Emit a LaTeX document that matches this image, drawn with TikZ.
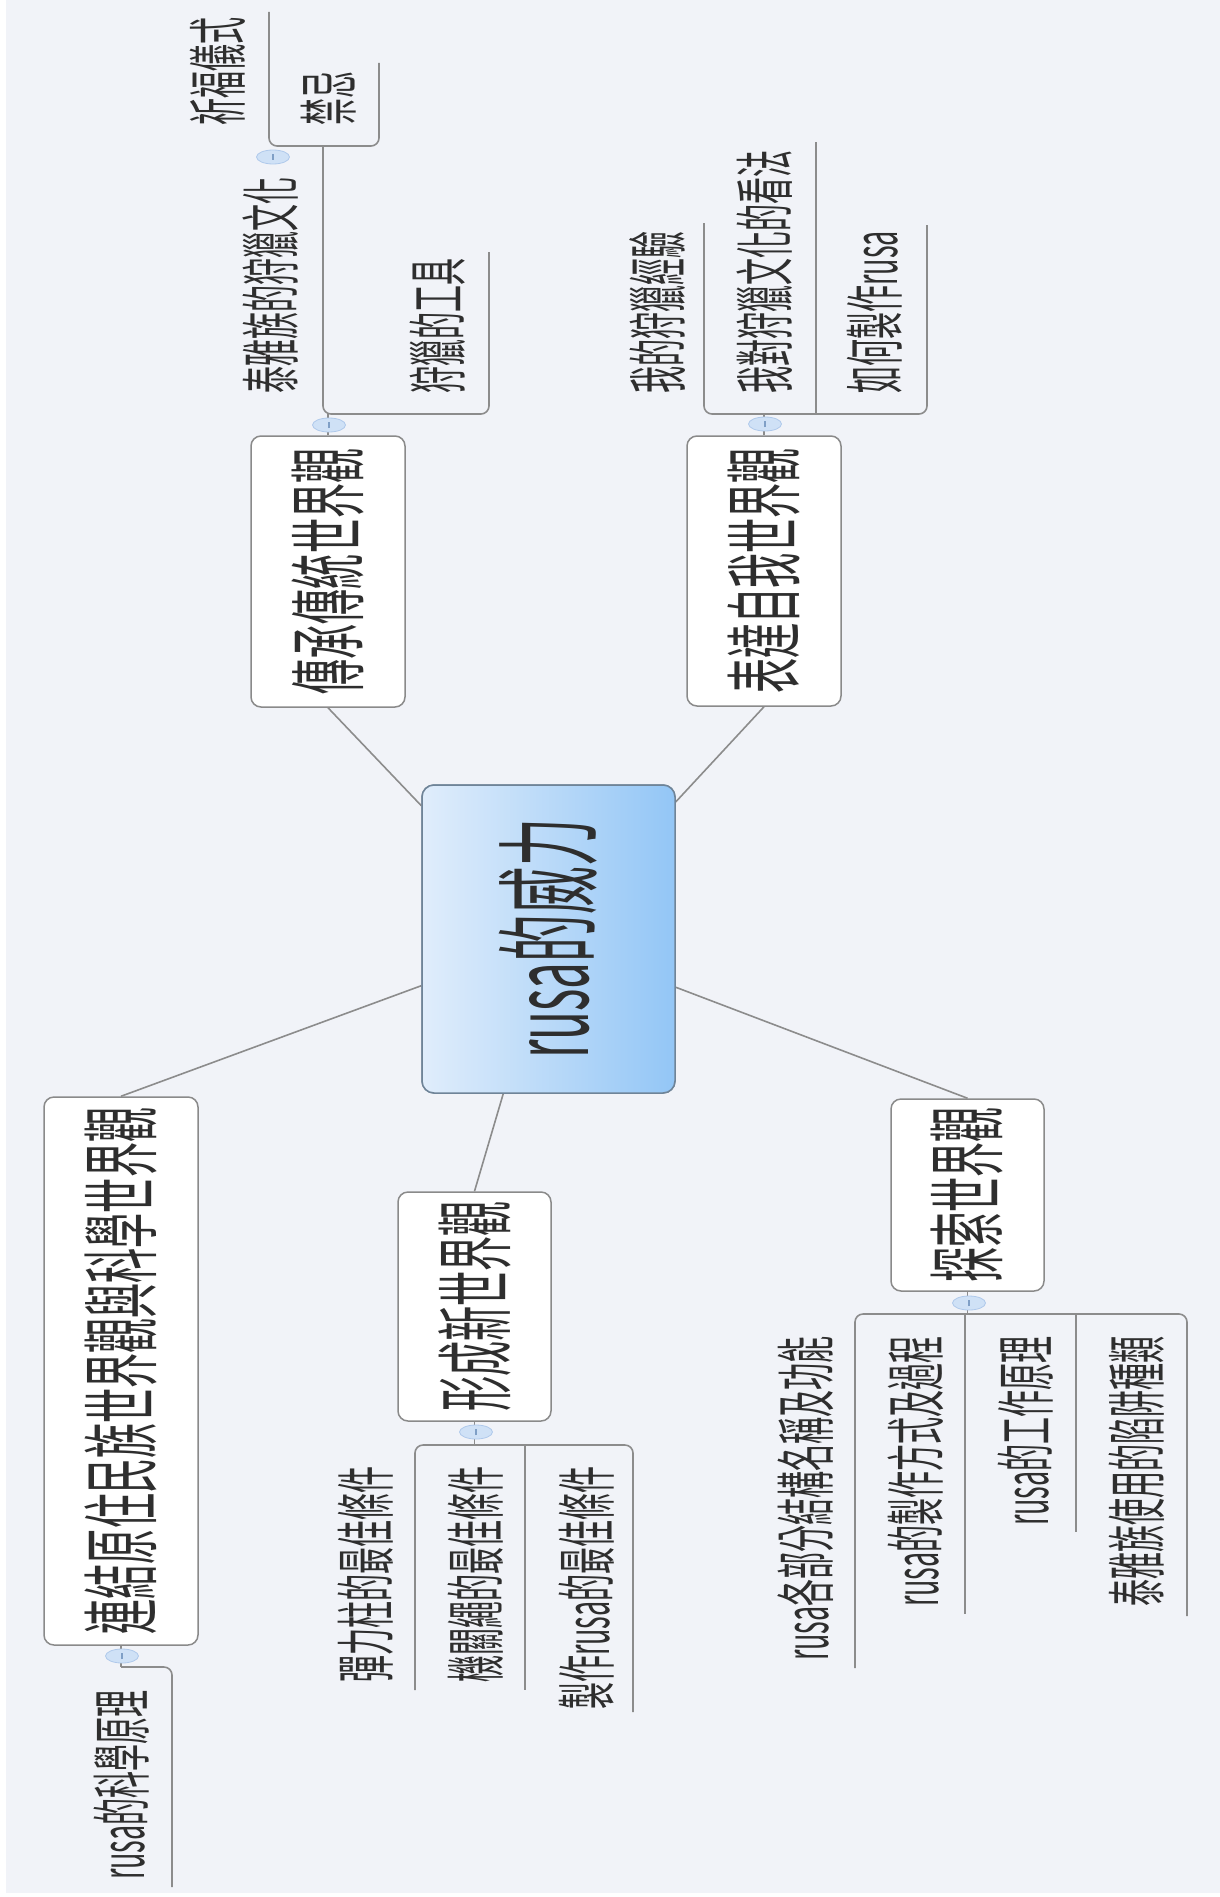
\documentclass[tikz,border=0pt]{standalone}
\usepackage{fontspec}
\usepackage{graphicx}
\setmainfont{Noto Sans CJK TC}
\usetikzlibrary{shapes.geometric}
\definecolor{bg}{HTML}{F1F3F8}
\definecolor{boxline}{HTML}{8A8A8A}
\definecolor{linkc}{HTML}{8C8C8C}
\definecolor{txt}{HTML}{2E2E2E}
\definecolor{knobfill}{HTML}{CFE1F6}
\definecolor{knobline}{HTML}{AFC9EB}
\definecolor{knobtick}{HTML}{7F9FC6}
\definecolor{cleft}{HTML}{E0EDFB}
\definecolor{cright}{HTML}{93C6F6}
\definecolor{cline}{HTML}{6F8498}
\newcommand{\vtext}[2]{\rotatebox{90}{\scalebox{0.45}[1]{\fontsize{#1}{#1}\selectfont #2}}}
\begin{document}
\begin{tikzpicture}[x=1pt,y=-1pt,
  mainbox/.style={draw=boxline, fill=white, rounded corners=10pt, line width=1.5pt, inner sep=0pt, text=txt},
  centerbox/.style={draw=cline, left color=cleft, right color=cright, rounded corners=12pt, line width=1.5pt, inner sep=0pt, text=txt},
  subtext/.style={inner sep=0pt, text=txt},
  link/.style={draw=linkc, line width=1.6pt},
  tree/.style={draw=linkc, line width=1.6pt, rounded corners=8pt},
  knob/.style={ellipse, draw=knobline, fill=knobfill, line width=0.8pt, minimum width=33pt, minimum height=14pt, inner sep=0pt}
]
\useasboundingbox (0,0) rectangle (1220,1897);
\fill[white] (0,0) rectangle (1220,1897);
\fill[bg] (6,0) rectangle (1220,1893);

% central and main topics
\node[centerbox, minimum width=253pt, minimum height=308pt] (c) at (548.5,939) {\vtext{106}{rusa的威力}};
\node[mainbox, minimum width=154pt, minimum height=271pt] (t1) at (328,571.5) {\vtext{78}{傳承傳統世界觀}};
\node[mainbox, minimum width=154pt, minimum height=270pt] (t2) at (764,571) {\vtext{78}{表達自我世界觀}};
\node[mainbox, minimum width=154pt, minimum height=548pt] (t3) at (121,1371) {\vtext{78}{連結原住民族世界觀與科學世界觀}};
\node[mainbox, minimum width=153pt, minimum height=229pt] (t4) at (474.5,1306.5) {\vtext{78}{形成新世界觀}};
\node[mainbox, minimum width=153pt, minimum height=192pt] (t5) at (967.5,1195) {\vtext{78}{探索世界觀}};

% subtopic texts
\node[subtext, anchor=south] (a1) at (271,394) {\vtext{60}{泰雅族的狩獵文化}};
\node[subtext, anchor=south] (a2) at (438,394) {\vtext{60}{狩獵的工具}};
\node[subtext, anchor=south] (a11) at (218,126) {\vtext{60}{祈福儀式}};
\node[subtext, anchor=south] (a12) at (329,126) {\vtext{60}{禁忌}};
\node[subtext, anchor=south] (b1) at (657,394) {\vtext{60}{我的狩獵經驗}};
\node[subtext, anchor=south] (b2) at (765,394) {\vtext{60}{我對狩獵文化的看法}};
\node[subtext, anchor=south] (b3) at (875,394) {\vtext{60}{如何製作rusa}};
\node[subtext, anchor=north] (c1) at (122,1690) {\vtext{60}{rusa的科學原理}};
\node[subtext, anchor=north] (d1) at (366,1466) {\vtext{60}{彈力柱的最佳條件}};
\node[subtext, anchor=north] (d2) at (476,1466) {\vtext{60}{機關繩的最佳條件}};
\node[subtext, anchor=north] (d3) at (587,1466) {\vtext{60}{製作rusa的最佳條件}};
\node[subtext, anchor=north] (e1) at (806,1336) {\vtext{60}{rusa各部分結構名稱及功能}};
\node[subtext, anchor=north] (e2) at (916,1336) {\vtext{60}{rusa的製作方式及過程}};
\node[subtext, anchor=north] (e3) at (1026,1336) {\vtext{60}{rusa的工作原理}};
\node[subtext, anchor=north] (e4) at (1137,1336) {\vtext{60}{泰雅族使用的陷阱種類}};

% bar coordinates
\coordinate (jA) at (328,414);
\coordinate (jA1) at (323,146);
\coordinate (jB) at (764,414);
\coordinate (jC) at (121,1667);
\coordinate (jD) at (474.5,1445);
\coordinate (jE) at (967.5,1314);

% connectors central -> main
\begin{scope}[on background layer/.style={}]
\draw[link] (c) -- (t1.south);
\draw[link] (c) -- (t2.south);
\draw[link] (c) -- (t3.north);
\draw[link] (c) -- (t4.north);
\draw[link] (c) -- (t5.north);
\end{scope}

% group A
\draw[link] (t1.north) -- (jA);
\draw[tree] (269,12) -- (269,146) -- (379,146) -- (379,63);
\draw[tree] (jA1) -- (323,414) -- (489,414) -- (489,252);
% group B
\draw[link] (t2.north) -- (jB);
\draw[tree] (704,223) -- (704,414) -- (927,414) -- (927,225);
\draw[link] (816,414) -- (816,142);
% group C
\draw[link] (t3.south) -- (jC);
\draw[tree] (jC) -- (172,1667) -- (172,1887);
% group D
\draw[link] (t4.south) -- (jD);
\draw[tree] (415,1690) -- (415,1445) -- (633,1445) -- (633,1712);
\draw[link] (525,1445) -- (525,1690);
% group E
\draw[link] (t5.south) -- (jE);
\draw[tree] (855,1668) -- (855,1314) -- (1187,1314) -- (1187,1616);
\draw[link] (965,1314) -- (965,1614);
\draw[link] (1076,1314) -- (1076,1532);

% redraw boxes over connectors
\node[centerbox, minimum width=253pt, minimum height=308pt] at (c) {\vtext{106}{rusa的威力}};

% knobs
\node[knob] (kA) at (329,425) {\textcolor{knobtick}{\rule{1.2pt}{6pt}}};
\node[knob] (kA1) at (273,157) {\textcolor{knobtick}{\rule{1.2pt}{6pt}}};
\node[knob] (kB) at (765,424) {\textcolor{knobtick}{\rule{1.2pt}{6pt}}};
\node[knob] (kC) at (122,1656) {\textcolor{knobtick}{\rule{1.2pt}{6pt}}};
\node[knob] (kD) at (476,1432) {\textcolor{knobtick}{\rule{1.2pt}{6pt}}};
\node[knob] (kE) at (969,1303) {\textcolor{knobtick}{\rule{1.2pt}{6pt}}};
\end{tikzpicture}
\end{document}
